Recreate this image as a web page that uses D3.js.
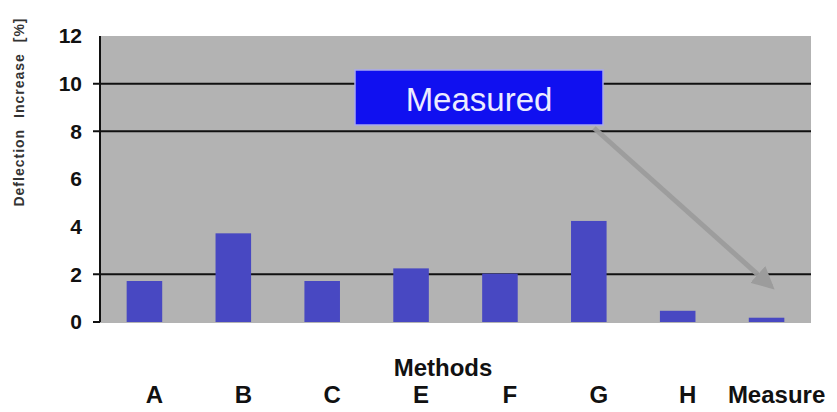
<!DOCTYPE html>
<html>
<head>
<meta charset="utf-8">
<script src="https://cdn.jsdelivr.net/npm/d3@7"></script>
<style>
  body { margin: 0; background: #fff; }
  svg text { font-family: Arial, "Liberation Sans", sans-serif; }
</style>
</head>
<body>
<div id="container"></div>
<script>
const categories = ['A', 'B', 'C', 'E', 'F', 'G', 'H', 'Measure'],
  values = [1.72, 3.72, 1.72, 2.25, 2.03, 4.24, 0.47, 0.18],
  yTicks = [0, 2, 4, 6, 8, 10, 12],
  gridValues = [2, 8, 10],
  yTitle = 'Deflection Increase [%]',
  xTitle = 'Methods',
  noteText = 'Measured';

const width = 837, height = 412,
  plot = { left: 100, right: 811, top: 36, bottom: 322 };

const svg = d3.select('#container')
  .append('svg')
    .attr('width', width)
    .attr('height', height);

const x = d3.scaleBand()
    .domain(categories)
    .range([plot.left, plot.right])
    .paddingInner(0.6)
    .paddingOuter(0.3),
  y = d3.scaleLinear()
    .domain([0, 12])
    .range([plot.bottom, plot.top]);

// plot background
svg.append('rect')
  .attr('x', plot.left)
  .attr('y', y(12))
  .attr('width', plot.right - plot.left)
  .attr('height', y(0) - y(12) + 1)
  .attr('fill', '#b3b3b3');

// gridlines (only some, like the original)
svg.append('g')
  .selectAll('line')
  .data(gridValues)
  .enter()
  .append('line')
    .attr('x1', plot.left - 7)
    .attr('x2', plot.right)
    .attr('y1', d => y(d))
    .attr('y2', d => y(d))
    .attr('stroke', '#111')
    .attr('stroke-width', 2);

// bars
svg.append('g')
  .selectAll('rect')
  .data(values)
  .enter()
  .append('rect')
    .attr('x', (d, i) => x(categories[i]))
    .attr('y', d => y(d))
    .attr('width', x.bandwidth())
    .attr('height', d => y(0) - y(d))
    .attr('fill', '#4848c2');

// y axis
const yAxis = d3.axisLeft(y)
  .tickValues(yTicks)
  .tickSize(0)
  .tickPadding(18);
const ya = svg.append('g')
  .attr('transform', `translate(${plot.left},0)`)
  .call(yAxis);
ya.select('.domain').remove();
ya.selectAll('text')
  .attr('font-size', 21)
  .attr('font-weight', 'bold')
  .attr('fill', '#111');
svg.append('line')
  .attr('x1', plot.left).attr('x2', plot.left)
  .attr('y1', y(12)).attr('y2', y(0))
  .attr('stroke', '#111').attr('stroke-width', 2);
svg.append('line')
  .attr('x1', plot.left - 7).attr('x2', plot.left)
  .attr('y1', y(0)).attr('y2', y(0))
  .attr('stroke', '#111').attr('stroke-width', 2);

// x axis labels
const xAxis = d3.axisBottom(x).tickSize(0).tickPadding(0);
const xa = svg.append('g')
  .attr('transform', `translate(10,${y(0) + 81})`)
  .call(xAxis);
xa.select('.domain').remove();
xa.selectAll('text')
  .attr('dy', 0)
  .attr('font-size', 24)
  .attr('font-weight', 'bold')
  .attr('fill', '#111');

svg.append('text')
  .attr('x', 443)
  .attr('y', 376)
  .attr('text-anchor', 'middle')
  .attr('font-size', 24)
  .attr('font-weight', 'bold')
  .attr('fill', '#111')
  .text(xTitle);

svg.append('text')
  .attr('transform', 'translate(24,112) rotate(-90)')
  .attr('text-anchor', 'middle')
  .attr('font-size', 14)
  .attr('font-weight', 'bold')
  .attr('letter-spacing', 1)
  .attr('word-spacing', 6)
  .attr('fill', '#333')
  .text(yTitle);

// annotation arrow to the measured bar
const mIdx = categories.length - 1,
  tipX = x(categories[mIdx]) + x.bandwidth() * 0.8,
  tipY = y(values[mIdx] + 1.1);
svg.append('defs').append('marker')
  .attr('id', 'head')
  .attr('viewBox', '0 0 10 10')
  .attr('refX', 8).attr('refY', 5)
  .attr('markerWidth', 4.5).attr('markerHeight', 4.5)
  .attr('orient', 'auto')
  .append('path')
    .attr('d', 'M0,0 L10,5 L0,10 Z')
    .attr('fill', '#9c9c9c');
svg.append('line')
  .attr('x1', 594).attr('y1', 128)
  .attr('x2', tipX - 6).attr('y2', tipY - 5)
  .attr('stroke', '#9c9c9c')
  .attr('stroke-opacity', 0.95)
  .attr('stroke-width', 5)
  .attr('marker-end', 'url(#head)');

// "Measured" box
svg.append('rect')
  .attr('x', 355).attr('y', 70)
  .attr('width', 248).attr('height', 55)
  .attr('fill', '#1010f0')
  .attr('stroke', '#a9a9ee')
  .attr('stroke-width', 1.5);
svg.append('text')
  .attr('x', 479).attr('y', 111)
  .attr('text-anchor', 'middle')
  .attr('font-size', 33)
  .attr('fill', '#ececff')
  .text(noteText);
</script>
</body>
</html>
